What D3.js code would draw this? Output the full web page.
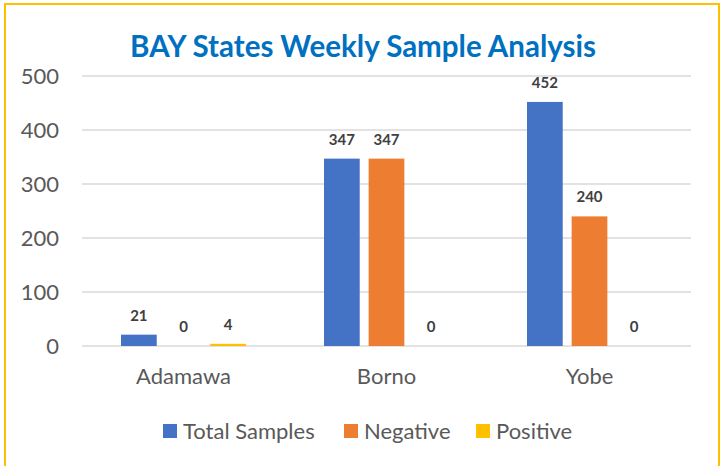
<!DOCTYPE html>
<html>
<head>
<meta charset="utf-8">
<script src="https://cdn.jsdelivr.net/npm/d3@7"></script>
<style>
  body { margin: 0; background: #fff; }
  text { font-family: Lato, "Open Sans", sans-serif; }
</style>
</head>
<body>
<div id="chart"></div>
<script>
var states = ["Adamawa", "Borno", "Yobe"];
var seriesNames = ["Total Samples", "Negative", "Positive"];
var totalSamples = [21, 347, 452];
var negative = [0, 347, 240];
var positive = [4, 0, 0];
var yTicks = [0, 100, 200, 300, 400, 500];
var colors = ["#4472C4", "#ED7D31", "#FFC000"];

function init() {
    var w = 723;
    var h = 466;
    var margin = { top: 76, right: 32, bottom: 120, left: 82 };
    var innerWidth = w - margin.left - margin.right;
    var innerHeight = h - margin.top - margin.bottom;

    var dataset = states.map(function(s, i) {
        return { state: s, values: [totalSamples[i], negative[i], positive[i]] };
    });

    var svg = d3.select("#chart")
        .append("svg")
        .attr("width", w)
        .attr("height", h);

    svg.append("rect")
        .attr("x", 5)
        .attr("y", 4)
        .attr("width", 714)
        .attr("height", 480)
        .attr("fill", "#fff")
        .attr("stroke", "#FFC000")
        .attr("stroke-width", 2);

    svg.append("text")
        .attr("x", 363)
        .attr("y", 57)
        .attr("text-anchor", "middle")
        .attr("font-size", 29.5)
        .attr("font-weight", "bold")
        .attr("fill", "#0070C0")
        .text("BAY States Weekly Sample Analysis");

    var g = svg.append("g")
        .attr("transform", "translate(" + margin.left + "," + margin.top + ")");

    var x0 = d3.scaleBand()
        .domain(states)
        .range([0, innerWidth]);

    var x1 = d3.scaleBand()
        .domain(d3.range(seriesNames.length))
        .range([39, x0.bandwidth() - 39])
        .paddingInner(0.2);

    var yScale = d3.scaleLinear()
        .domain([0, 500])
        .range([innerHeight, 0]);

    // gridlines
    g.selectAll(".grid")
        .data(yTicks)
        .enter()
        .append("line")
        .attr("x1", 0)
        .attr("x2", innerWidth)
        .attr("y1", function(d) { return yScale(d); })
        .attr("y2", function(d) { return yScale(d); })
        .attr("stroke", "#D9D9D9")
        .attr("stroke-width", 1.3);

    // y tick labels
    g.selectAll(".ytick")
        .data(yTicks)
        .enter()
        .append("text")
        .attr("x", -23)
        .attr("y", function(d) { return yScale(d); })
        .attr("dy", "0.35em")
        .attr("text-anchor", "end")
        .attr("font-size", 22)
        .attr("fill", "#595959")
        .text(function(d) { return d; });

    var groups = g.selectAll(".state")
        .data(dataset)
        .enter()
        .append("g")
        .attr("transform", function(d) {
            return "translate(" + x0(d.state) + ",0)";
        });

    groups.selectAll("rect")
        .data(function(d) { return d.values; })
        .enter()
        .append("rect")
        .attr("x", function(d, i) { return x1(i); })
        .attr("y", function(d) { return yScale(d); })
        .attr("width", x1.bandwidth())
        .attr("height", function(d) { return innerHeight - yScale(d); })
        .attr("fill", function(d, i) { return colors[i]; });

    groups.selectAll(".lbl")
        .data(function(d) { return d.values; })
        .enter()
        .append("text")
        .attr("x", function(d, i) { return x1(i) + x1.bandwidth() / 2; })
        .attr("y", function(d) { return yScale(d) - 14; })
        .attr("text-anchor", "middle")
        .attr("font-size", 15)
        .attr("font-weight", "bold")
        .attr("fill", "#404040")
        .text(function(d) { return d; });

    // x labels
    g.selectAll(".xlab")
        .data(states)
        .enter()
        .append("text")
        .attr("x", function(d) { return x0(d) + x0.bandwidth() / 2; })
        .attr("y", innerHeight + 38)
        .attr("text-anchor", "middle")
        .attr("font-size", 22)
        .attr("fill", "#595959")
        .text(function(d) { return d; });

    // legend
    var legendX = [163, 344, 476];
    var legend = svg.selectAll(".legend")
        .data(seriesNames)
        .enter()
        .append("g")
        .attr("transform", function(d, i) {
            return "translate(" + legendX[i] + ",424)";
        });

    legend.append("rect")
        .attr("width", 14)
        .attr("height", 14)
        .attr("fill", function(d, i) { return colors[i]; });

    legend.append("text")
        .attr("x", 20)
        .attr("y", 7)
        .attr("dy", "0.35em")
        .attr("font-size", 22)
        .attr("fill", "#595959")
        .text(function(d) { return d; });
}

window.onload = init;
</script>
</body>
</html>
